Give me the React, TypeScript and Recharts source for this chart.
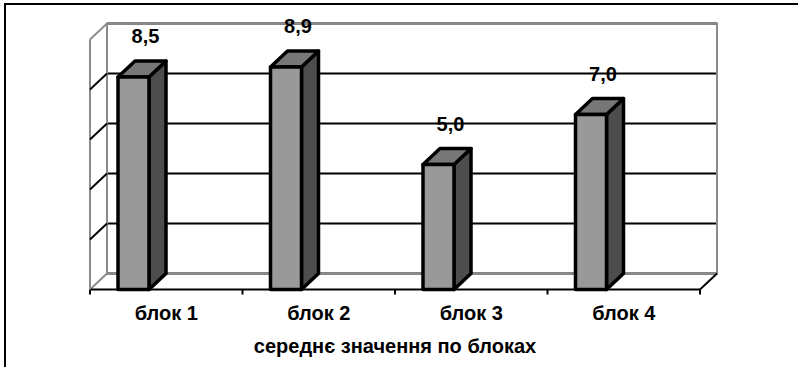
import React from 'react';
import { BarChart, Bar, XAxis, YAxis, CartesianGrid, ReferenceArea, LabelList } from 'recharts';

const categories = ['блок 1', 'блок 2', 'блок 3', 'блок 4'];
const averages = [8.5, 8.9, 5.0, 7.0];
const yTicks = [0, 2, 4, 6, 8, 10];
const axisTitle = 'середнє значення по блоках';

const data = categories.map((name, i) => ({ name, value: averages[i] }));

// depth of the fake 3d box
const DX = 17;
const DY = -16;
// bars sit left of the category centre, as in the original
const SHIFT = -33;
const GRAY = '#8c8c8c';
const FONT = '"Liberation Sans", Arial, sans-serif';

function Box3D(props: any) {
  const { x, y, width, height } = props;
  const x0 = x + SHIFT;
  const top = `${x0},${y} ${x0 + width},${y} ${x0 + width + DX},${y + DY} ${x0 + DX},${y + DY}`;
  const side = `${x0 + width},${y} ${x0 + width + DX},${y + DY} ${x0 + width + DX},${y + height + DY} ${x0 + width},${y + height}`;
  return (
    <g stroke="#000" strokeWidth={3.5} strokeLinejoin="round">
      <polygon points={side} fill="#4d4d4d" />
      <polygon points={top} fill="#777777" />
      <rect x={x0} y={y} width={width} height={height} fill="#999999" />
    </g>
  );
}

function ValueLabel(props: any) {
  const x = Number(props.x);
  const y = Number(props.y);
  const width = Number(props.width);
  return (
    <text
      x={x + SHIFT + width / 2 + 12}
      y={y - 34}
      textAnchor="middle"
      fontFamily={FONT}
      fontSize={20}
      fontWeight={700}
      fill="#000"
    >
      {Number(props.value).toFixed(1).replace('.', ',')}
    </text>
  );
}

function Frame(props: any) {
  const { x, y, width, height } = props;
  const bottom = y + height;
  const step = width / categories.length;
  const bounds = [0, ...categories.map((_, i) => i + 1)];
  return (
    <g fill="none">
      <rect x={x + DX} y={y + DY} width={width} height={height} stroke={GRAY} strokeWidth={2} />
      <line x1={x} y1={y} x2={x + DX} y2={y + DY} stroke={GRAY} strokeWidth={2} />
      <line x1={x} y1={bottom} x2={x + DX} y2={bottom + DY} stroke={GRAY} strokeWidth={2} />
      <line x1={x + width} y1={bottom} x2={x + width + DX} y2={bottom + DY} stroke="#000" strokeWidth={2} />
      {bounds.map((b) => (
        <line key={b} x1={x + b * step} y1={bottom} x2={x + b * step} y2={bottom + 5} stroke="#000" strokeWidth={2} />
      ))}
    </g>
  );
}

function DiagTick(props: any) {
  const { x, y, payload } = props;
  if (payload.value === yTicks[0] || payload.value === yTicks[yTicks.length - 1]) return <g />;
  return <line x1={x} y1={y} x2={x + DX} y2={y + DY} stroke="#000" strokeWidth={2} />;
}

export default function App() {
  return (
    <div style={{ position: 'fixed', left: 0, top: 0, width: 798, height: 367, overflow: 'hidden', background: '#fff' }}>
      <div
        style={{
          position: 'absolute',
          left: 4,
          top: 3,
          width: 830,
          height: 400,
          border: '2px solid #000',
        }}
      />
      <div style={{ position: 'absolute', left: 0, top: 0 }}>
        <BarChart width={798} height={367} data={data} margin={{ top: 39.5, right: 98, left: 0, bottom: 0 }}>
          <CartesianGrid
            vertical={false}
            horizontal={(p: any) => (
              <line
                key={p.key}
                x1={p.x1 + DX}
                y1={p.y1 + DY}
                x2={p.x2 + DX}
                y2={p.y2 + DY}
                stroke="#000"
                strokeWidth={2}
              />
            )}
          />
          <ReferenceArea y1={0} y2={10} shape={Frame} />
          <XAxis
            dataKey="name"
            height={77.5}
            interval={0}
            axisLine={{ stroke: '#000', strokeWidth: 2 }}
            tickLine={false}
            tickSize={6}
            tickMargin={10}
            tick={{ fill: '#000', fontSize: 20, fontWeight: 700, fontFamily: FONT }}
            label={{
              value: axisTitle,
              position: 'insideBottom',
              offset: 14,
              fill: '#000',
              fontSize: 20,
              fontWeight: 700,
              fontFamily: FONT,
            }}
          />
          <YAxis
            type="number"
            domain={[0, 10]}
            ticks={yTicks}
            width={90}
            tickSize={0}
            tickMargin={0}
            axisLine={{ stroke: GRAY, strokeWidth: 2 }}
            tickLine={false}
            tick={DiagTick}
          />
          <Bar dataKey="value" barSize={31} shape={Box3D} isAnimationActive={false}>
            <LabelList dataKey="value" content={ValueLabel} />
          </Bar>
        </BarChart>
      </div>
    </div>
  );
}
